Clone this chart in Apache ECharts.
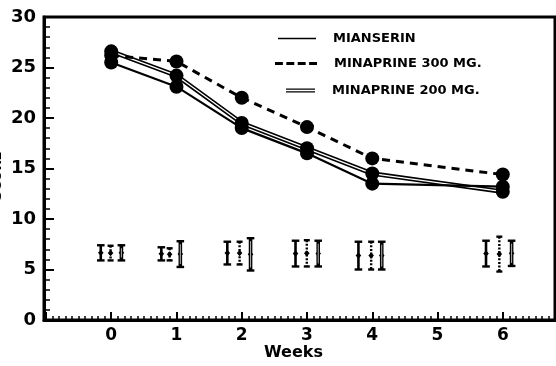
<!DOCTYPE html>
<html>
<head>
<meta charset="utf-8">
<script src="https://cdn.jsdelivr.net/npm/echarts@6/dist/echarts.min.js"></script>
<style>html,body{margin:0;padding:0;background:#fff;}#c{width:556px;height:366px;}</style>
</head>
<body>
<div id="c"></div>
<script>
// ---- data ----
const weeks = [0, 1, 2, 3, 4, 6];
const mianserin = [25.5, 23.1, 19.0, 16.5, 13.5, 13.2];
const minaprine300 = [26.2, 25.6, 22.0, 19.1, 16.0, 14.4];
const minaprine200 = [26.6, 24.2, 19.5, 17.0, 14.5, 12.7];
const seriesNames = ['MIANSERIN', 'MINAPRINE 300 MG.', 'MINAPRINE 200 MG.'];
const xTickLabels = ['0', '1', '2', '3', '4', '5', '6'];
const yTickLabels = ['0', '5', '10', '15', '20', '25', '30'];
const xAxisTitle = 'Weeks';
const yAxisTitle = 'SCORE';
// error bars (position in weeks, low, high)
const sdMianserinX = [-0.16, 0.768, 1.779, 2.824, 3.788, 5.743];
const sdMianserinLow = [5.9, 5.9, 5.5, 5.3, 5.0, 5.3];
const sdMianserinHigh = [7.4, 7.2, 7.75, 7.85, 7.75, 7.85];
const sd300X = [-0.01, 0.895, 1.967, 2.997, 3.983, 5.947];
const sd300Low = [5.9, 5.9, 5.5, 5.3, 5.0, 4.8];
const sd300High = [7.35, 7.1, 7.75, 7.9, 7.75, 8.25];
const sd200X = [0.156, 1.059, 2.135, 3.172, 4.145, 6.135];
const sd200Low = [5.9, 5.25, 4.9, 5.3, 5.0, 5.35];
const sd200High = [7.4, 7.8, 8.1, 7.85, 7.75, 7.85];

const FONT = 'DejaVu Sans';
const pair = (xs, ys) => xs.map((x, i) => [x, ys[i]]);
const errData = [];
[[sdMianserinX, sdMianserinLow, sdMianserinHigh, 0], [sd300X, sd300Low, sd300High, 1], [sd200X, sd200Low, sd200High, 2]]
  .forEach(([xs, lo, hi, t]) => xs.forEach((x, i) => errData.push([x, lo[i], hi[i], t])));

const chart = echarts.init(document.getElementById('c'), null, {renderer: 'canvas'});

function renderErr(params, api) {
  const x = api.value(0), lo = api.value(1), hi = api.value(2), t = api.value(3);
  const pHi = api.coord([x, hi]);
  const pLo = api.coord([x, lo]);
  const pMid = api.coord([x, (lo + hi) / 2]);
  const cap = t === 1 ? 3 : 3.8;
  const lw = t === 0 ? 2.6 : (t === 1 ? 2.4 : 3.6);
  const stroke = {stroke: '#000', lineWidth: lw, lineDash: t === 1 ? [2, 1.6] : null};
  const children = [
    {type: 'line', shape: {x1: pHi[0], y1: pHi[1], x2: pLo[0], y2: pLo[1]}, style: stroke},
    {type: 'line', shape: {x1: pHi[0] - cap, y1: pHi[1], x2: pHi[0] + cap, y2: pHi[1]}, style: {stroke: '#000', lineWidth: 2.4}},
    {type: 'line', shape: {x1: pLo[0] - cap, y1: pLo[1], x2: pLo[0] + cap, y2: pLo[1]}, style: {stroke: '#000', lineWidth: 2.4}},
    {type: 'polygon', shape: {points: [[pMid[0], pMid[1] - 3.2], [pMid[0] + 2.8, pMid[1]], [pMid[0], pMid[1] + 3.2], [pMid[0] - 2.8, pMid[1]]]}, style: {fill: '#000'}}
  ];
  if (t === 2) {
    children.push({type: 'line', shape: {x1: pHi[0], y1: pHi[1] + 3, x2: pLo[0], y2: pLo[1] - 3}, style: {stroke: '#fff', lineWidth: 0.7}, z2: 5});
  }
  return {type: 'group', children: children};
}

const legendBase = {
  orient: 'vertical', itemHeight: 5,
  textStyle: {fontFamily: FONT, fontWeight: 'bold', fontSize: 13, color: '#000', padding: [0, 0, 0, 12]},
  selectedMode: false
};

const option = {
  backgroundColor: '#fff',
  animation: false,
  grid: {left: 44, right: 1, top: 17, bottom: 46, show: true, borderColor: '#000', borderWidth: 3,
    containLabel: false, outerBoundsMode: 'none'},
  title: {text: xAxisTitle, left: 264, top: 345, textStyle: {fontFamily: FONT, fontWeight: 'bold', fontSize: 16, color: '#000'}, padding: 0},
  legend: [
    Object.assign({}, legendBase, {left: 273, top: 27, itemWidth: 38, data: [{name: seriesNames[0], icon: 'path://M0,0 L40,0 L40,1.6 L0,1.6 Z'}]}),
    Object.assign({}, legendBase, {left: 270, top: 52, itemWidth: 42, data: [{name: seriesNames[1], icon: 'path://M0,0 L8,0 L8,3 L0,3 Z M11.5,0 L19.5,0 L19.5,3 L11.5,3 Z M23,0 L31,0 L31,3 L23,3 Z M34.5,0 L42.5,0 L42.5,3 L34.5,3 Z'}]}),
    Object.assign({}, legendBase, {left: 281, top: 79, itemWidth: 29, data: [{name: seriesNames[2], icon: 'path://M0,0 L30,0 L30,1.3 L0,1.3 Z M0,2.7 L30,2.7 L30,4 L0,4 Z'}]})
  ],
  xAxis: {
    type: 'value', min: -1.03, max: 6.8, splitNumber: 8,
    axisLine: {onZero: false, lineStyle: {color: '#000', width: 3}},
    axisTick: {inside: true, length: 8, lineStyle: {color: '#000', width: 2}},
    minorTick: {show: true, splitNumber: 10, length: 4, lineStyle: {color: '#000', width: 1.5}},
    splitLine: {show: false},
    axisLabel: {
      margin: 7, color: '#000', fontFamily: FONT, fontWeight: 'bold', fontSize: 17,
      showMinLabel: false, showMaxLabel: false,
      formatter: v => { const i = Math.round(v); return (Math.abs(v - i) < 1e-6 && i >= 0 && i < xTickLabels.length) ? xTickLabels[i] : ''; }
    }
  },
  yAxis: {
    type: 'value', min: 0, max: 30, interval: 5,
    name: yAxisTitle, nameLocation: 'middle', nameGap: 40, nameRotate: 90, nameMoveOverlap: false,
    nameTextStyle: {fontFamily: FONT, fontWeight: 'bold', fontSize: 13, color: '#000', padding: [0, 15, 0, 0]},
    axisLine: {show: true, onZero: false, lineStyle: {color: '#000', width: 3}},
    axisTick: {inside: true, length: 10, lineStyle: {color: '#000', width: 2}},
    minorTick: {show: true, splitNumber: 5, length: 6, lineStyle: {color: '#000', width: 1.5}},
    splitLine: {show: false},
    axisLabel: {margin: 8, color: '#000', fontFamily: FONT, fontWeight: 'bold', fontSize: 18,
      formatter: v => yTickLabels[Math.round(v / 5)]}
  },
  series: [
    {name: seriesNames[2], type: 'line', data: pair(weeks, minaprine200), symbol: 'none', z: 1,
      lineStyle: {color: '#000', width: 4.5}, itemStyle: {color: '#000'}},
    {name: '200inner', type: 'line', data: pair(weeks, minaprine200), symbol: 'none', z: 2,
      lineStyle: {color: '#fff', width: 1.3}},
    {name: '200pts', type: 'scatter', data: pair(weeks, minaprine200), symbol: 'circle', symbolSize: 14, z: 4,
      itemStyle: {color: '#000', opacity: 1}},
    {name: seriesNames[0], type: 'line', data: pair(weeks, mianserin), symbol: 'circle', symbolSize: 14, z: 3,
      lineStyle: {color: '#000', width: 2.2}, itemStyle: {color: '#000'}},
    {name: seriesNames[1], type: 'line', data: pair(weeks, minaprine300), symbol: 'circle', symbolSize: 14, z: 3,
      lineStyle: {color: '#000', width: 3, type: [8, 6]}, itemStyle: {color: '#000'}},
    {name: 'sd', type: 'custom', data: errData, renderItem: renderErr, z: 5, encode: {x: 0, y: [1, 2]}}
  ]
};
chart.setOption(option);
</script>
</body>
</html>
